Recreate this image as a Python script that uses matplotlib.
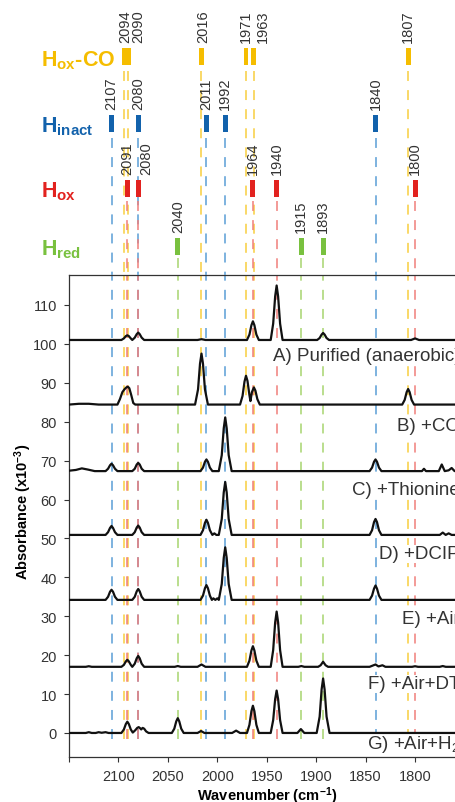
import numpy as np
import matplotlib
matplotlib.use("Agg")
import matplotlib.pyplot as plt

plt.rcParams['font.family'] = ['Liberation Sans', 'DejaVu Sans']
plt.rcParams['mathtext.fontset'] = 'custom'
plt.rcParams['mathtext.rm'] = 'Liberation Sans'
plt.rcParams['mathtext.bf'] = 'Liberation Sans:bold'
plt.rcParams['mathtext.it'] = 'Liberation Sans:italic'

# band positions (cm-1) for each species
hoxco_bands = [2094, 2090, 2016, 1971, 1963, 1807]
hinact_bands = [2107, 2080, 2011, 1992, 1840]
hox_bands = [2091, 2080, 1964, 1940, 1800]
hred_bands = [2040, 1915, 1893]

# spectra (wavenumber, absorbance x10^-3)
wn_A = [2150, 2097, 2094.5, 2092.5, 2091, 2089.5, 2087.5, 2086, 2083.5, 2081.5, 2080, 2078.5,
        2076.5, 2074, 2020, 2016, 2012, 1970, 1967.5, 1965.5, 1964, 1962.5, 1960.5, 1958,
        1946, 1943.5, 1941.5, 1940, 1938.5, 1936.5, 1934, 1899, 1896.5, 1894.5, 1893, 1891.5,
        1889.5, 1887, 1804, 1800, 1796, 1750]
ab_A = [101.0, 101.0, 101.4, 102.0, 102.2, 102.0, 101.4, 101.0, 101.6, 102.5, 102.9, 102.5,
        101.6, 101.0, 101.0, 101.2, 101.0, 101.0, 102.4, 104.8, 105.8, 104.8, 102.4, 101.0,
        101.0, 105.2, 112.2, 115.0, 112.2, 105.2, 101.0, 101.0, 101.5, 102.4, 102.8, 102.4,
        101.5, 101.0, 101.0, 101.4, 101.0, 101.0]

wn_B = [2150, 2140, 2130, 2120, 2101, 2098.5, 2096, 2094, 2092, 2090.5, 2089, 2087, 2085, 2083,
        2022.5, 2019.5, 2017.5, 2016, 2014.5, 2012.5, 2009.5, 1977, 1974.5, 1972.5, 1971, 1969.5,
        1967.5, 1966.5, 1965, 1963, 1961.5, 1959.5, 1957, 1813, 1810.5, 1808.5, 1807, 1805.5,
        1803.5, 1801, 1750]
ab_B = [84.4, 84.6, 84.6, 84.4, 84.4, 85.8, 87.6, 88.3, 88.8, 89.0, 88.6, 86.8, 84.8, 84.4,
        84.4, 88.3, 94.9, 97.5, 94.9, 88.3, 84.4, 84.4, 86.6, 90.3, 91.8, 90.5,
        86.8, 85.3, 87.6, 88.8, 88.0, 85.8, 84.4, 84.4, 85.6, 87.6, 88.4, 87.6,
        85.6, 84.4, 84.4]

wn_C = [2150, 2143, 2137, 2131, 2124, 2113, 2110.5, 2108.5, 2107, 2105.5, 2103.5, 2101,
        2086, 2083.5, 2081.5, 2080, 2078.5, 2076.5, 2074, 2017, 2014.5, 2012.5, 2011, 2009.5,
        2007.5, 2005, 1998.5, 1995.5, 1993.5, 1992, 1990.5, 1988.5, 1985.5, 1846, 1843.5,
        1841.5, 1840, 1838.5, 1836.5, 1834, 1793, 1791, 1789, 1776, 1773, 1770, 1766, 1763,
        1760, 1750]
ab_C = [67.4, 67.6, 68.0, 67.7, 67.3, 67.3, 67.9, 68.8, 69.2, 68.8, 67.9, 67.3,
        67.3, 67.9, 69.0, 69.4, 69.0, 67.9, 67.3, 67.3, 68.2, 69.7, 70.3, 69.7,
        68.2, 67.3, 67.3, 71.4, 78.3, 81.1, 78.3, 71.4, 67.3, 67.3, 68.2,
        69.7, 70.3, 69.7, 68.2, 67.3, 67.3, 67.9, 67.3, 67.3, 69.0, 67.3, 67.5, 68.1,
        67.3, 67.3]

wn_D = [2150, 2113, 2110.5, 2108.5, 2107, 2105.5, 2103.5, 2101, 2086, 2083.5, 2081.5, 2080,
        2078.5, 2076.5, 2074, 2017, 2014.5, 2012.5, 2011, 2009.5, 2007.5, 2005, 2003, 2001,
        1998.5, 1995.5, 1993.5, 1992, 1990.5, 1988.5, 1985.5, 1846, 1843.5, 1841.5, 1840,
        1838.5, 1836.5, 1834, 1775, 1772, 1769, 1766, 1763, 1750]
ab_D = [50.9, 50.9, 51.6, 52.7, 53.2, 52.7, 51.6, 50.9, 50.9, 51.6, 52.8, 53.3,
        52.8, 51.6, 50.9, 50.9, 52.1, 54.0, 54.8, 54.0, 52.1, 50.9, 51.3, 50.9,
        50.9, 55.0, 61.8, 64.5, 61.8, 55.0, 50.9, 50.9, 52.1, 54.2, 55.0,
        54.2, 52.1, 50.9, 50.9, 51.5, 50.9, 51.3, 50.9, 50.9]

wn_E = [2150, 2113, 2110.5, 2108.5, 2107, 2105.5, 2103.5, 2101, 2086, 2083.5, 2081.5, 2080,
        2078.5, 2076.5, 2074, 2017, 2014.5, 2012.5, 2011, 2009.5, 2007.5, 2005.5, 2004, 2002,
        2000, 1998.5, 1995.5, 1993.5, 1992, 1990.5, 1988.5, 1985.5, 1846, 1843.5, 1841.5,
        1840, 1838.5, 1836.5, 1834, 1750]
ab_E = [34.2, 34.2, 35.0, 36.3, 36.8, 36.3, 35.0, 34.2, 34.2, 35.0, 36.4, 37.0,
        36.4, 35.0, 34.2, 34.2, 35.3, 37.2, 38.0, 37.2, 35.3, 34.2, 34.6, 34.2,
        34.6, 34.2, 38.3, 45.0, 47.7, 45.0, 38.3, 34.2, 34.2, 35.3, 37.1,
        37.9, 37.1, 35.3, 34.2, 34.2]

wn_F = [2150, 2133, 2130, 2127, 2097, 2094.5, 2092.5, 2091, 2089.5, 2087.5, 2086, 2083.5,
        2081.5, 2080, 2078.5, 2076.5, 2074, 2043, 2040, 2037, 2020, 2016, 2012, 1970, 1967.5,
        1965.5, 1964, 1962.5, 1960.5, 1958, 1946, 1943.5, 1941.5, 1940, 1938.5, 1936.5,
        1934, 1918, 1915, 1912, 1898, 1895.5, 1893, 1890.5, 1888, 1846, 1843, 1840, 1837,
        1833, 1830, 1803, 1800, 1797, 1775, 1772, 1769, 1750]
ab_F = [17.0, 17.0, 17.15, 17.0, 17.0, 17.5, 18.4, 18.8, 18.4, 17.5, 17.0, 17.8,
        19.2, 19.8, 19.2, 17.8, 17.0, 17.0, 17.2, 17.0, 17.0, 17.6, 17.0, 17.0, 18.6,
        21.2, 22.3, 21.2, 18.6, 17.0, 17.0, 21.3, 28.4, 31.2, 28.4, 21.3,
        17.0, 17.0, 17.2, 17.0, 17.0, 17.4, 18.3, 17.4, 17.0, 17.0, 17.3, 17.6, 17.1,
        17.4, 17.0, 17.0, 17.15, 17.0, 17.0, 17.2, 17.0, 17.0]

wn_G = [2150, 2133, 2130, 2127, 2123, 2120, 2117, 2113, 2110, 2097, 2094.5, 2092.5, 2091,
        2089.5, 2087.5, 2085.5, 2083, 2081, 2079.5, 2078, 2077, 2075.5, 2074, 2072, 2069.5,
        2046, 2043.5, 2041.5, 2040, 2038.5, 2036.5, 2034, 2020, 2016.5, 2013, 1985, 1981,
        1977, 1970, 1967.5, 1965.5, 1964, 1962.5, 1960.5, 1958, 1946, 1943.5, 1941.5, 1940,
        1938.5, 1936.5, 1934, 1919, 1915.5, 1912, 1899.5, 1896.5, 1894.5, 1893, 1891.5,
        1889.5, 1886.5, 1750]
ab_G = [0.0, 0.0, 0.2, 0.0, 0.0, 0.2, 0.05, 0.2, 0.0, 0.0, 0.9, 2.3, 2.9,
        2.3, 0.9, 0.1, 0.7, 1.3, 1.5, 1.2, 0.9, 1.3, 1.1, 0.4, 0.0,
        0.0, 1.1, 3.0, 3.8, 3.0, 1.1, 0.0, 0.0, 0.5, 0.0, 0.0, 0.6,
        0.0, 0.0, 2.1, 5.6, 7.0, 5.6, 2.1, 0.0, 0.0, 3.3, 8.7, 10.9,
        8.7, 3.3, 0.0, 0.0, 1.0, 0.0, 0.0, 4.2, 11.2, 14.0, 11.2,
        4.2, 0.0, 0.0]

spectra = [(wn_A, ab_A), (wn_B, ab_B), (wn_C, ab_C), (wn_D, ab_D),
           (wn_E, ab_E), (wn_F, ab_F), (wn_G, ab_G)]
spec_labels = ['A) Purified (anaerobic)', 'B) +CO', 'C) +Thionine', 'D) +DCIP',
               'E) +Air', 'F) +Air+DT', 'G) +Air+H$_2$']
label_y = [96.9, 79.0, 62.7, 46.0, 29.3, 12.6, -2.6]

# ---- figure ----
fig = plt.figure(figsize=(4.56, 8.03), dpi=100)
FW, FH = 456.0, 803.0
left = 69 / FW
width = (464.5 - 69) / FW
ax = fig.add_axes([left, 1 - 757.7 / FH, width, (757.7 - 276) / FH])
ax_top = fig.add_axes([left, 1 - 276 / FH, width, 276 / FH])

xl = (2150, 1750)
ax.set_xlim(xl)
ax.set_ylim(-6.1, 117.7)
ax_top.set_xlim(xl)
ax_top.set_ylim(276, 0)  # pixel-like units, top down
ax_top.axis('off')

dash = (0, (6.5, 6))
dash_lw = 1.1

# rows: (bands, label, bar color, dash color, bar top px, text baseline px,
#        number bottom px, dash start px, label offsets)
rows = [
    (hoxco_bands, r'$\mathbf{H_{ox}}$-CO', '#F5BD00', '#F8CE3E', 49, 66, 43, 72,
     {2094: 1, 2090: 10, 1963: 9, 2016: 2}),
    (hinact_bands, r'$\mathbf{H_{inact}}$', '#1262AC', '#5A9ED6', 116, 132, 110, 139, {}),
    (hox_bands, r'$\mathbf{H_{ox}}$', '#E2221F', '#F07E7A', 181, 197, 175, 202, {2080: 8.5}),
    (hred_bands, r'$\mathbf{H_{red}}$', '#79C13F', '#A7D56F', 239, 255, 233, 259, {}),
]

for bands, name, c_bar, c_dash, top, base, num_b, d_start, offs in rows:
    ax_top.bar(bands, 17, bottom=top, width=5, color=c_bar, zorder=3)
    ax_top.text(2178, base, name, color=c_bar, fontsize=15.5, fontweight='bold',
                ha='left', va='baseline')
    for b in bands:
        ax_top.text(b - offs.get(b, 0), num_b, str(b), rotation=90, ha='center',
                    va='bottom', fontsize=10.5, color='#333333')
    ax_top.vlines(bands, d_start, 276, colors=c_dash, linestyles=dash, lw=dash_lw, zorder=1)
    ax.vlines(bands, -1.5, 117.7, colors=c_dash, linestyles=dash, lw=dash_lw, zorder=1)

for (wn, ab) in spectra:
    ax.plot(wn, ab, color='#111111', lw=1.6, zorder=4)

for txt, y in zip(spec_labels, label_y):
    ax.text(1754.5, y, txt, ha='right', va='center', fontsize=13.5, color='#333333',
            zorder=3, clip_on=False,
            bbox=dict(facecolor='white', edgecolor='none', pad=0.5))

ax.set_xticks([2150, 2100, 2050, 2000, 1950, 1900, 1850, 1800, 1750])
ax.set_xticklabels(['', '2100', '2050', '2000', '1950', '1900', '1850', '1800', ''])
ax.set_yticks(np.arange(0, 111, 10))
ax.tick_params(direction='out', length=3.6, width=0.8, labelsize=10.5,
               colors='#333333', pad=5)
for s in ax.spines.values():
    s.set_linewidth(0.9)
    s.set_color('#333333')

ax.set_xlabel('Wavenumber (cm$^{\\mathbf{-1}}$)', fontsize=10.5, fontweight='bold',
              labelpad=1)
ax.text((23 - 69) / 395.5, 0.51, 'Absorbance (x10$^{\\mathbf{-3}}$)', rotation=90,
        transform=ax.transAxes, ha='center', va='center', fontsize=10.5,
        fontweight='bold')

fig.savefig('out.png', dpi=100)
